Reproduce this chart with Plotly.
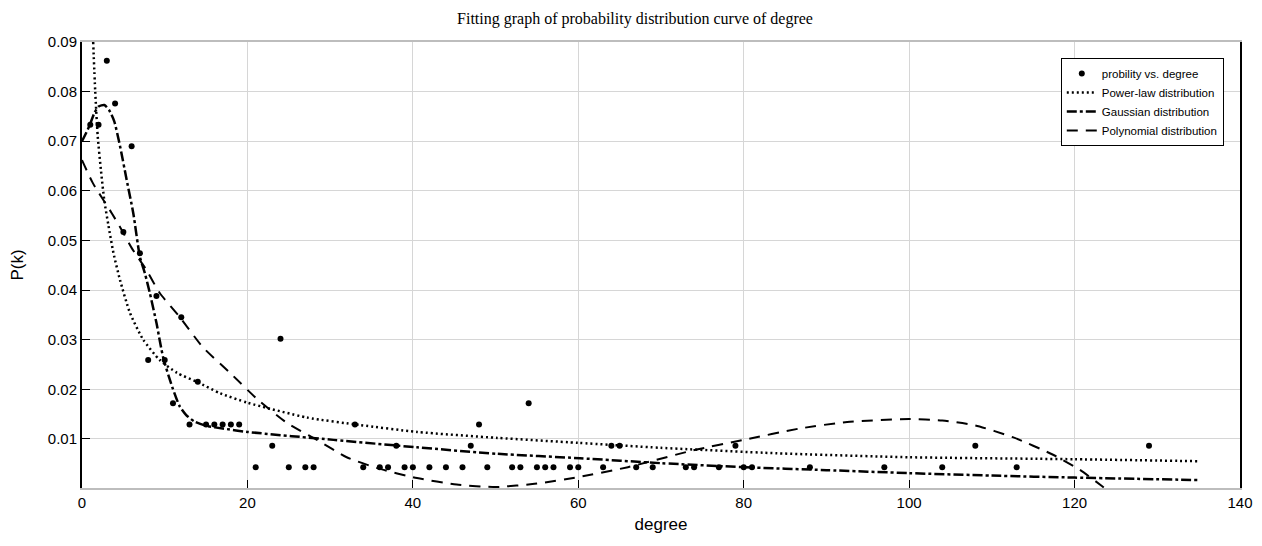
import plotly.graph_objects as go

# Observed data (degree, probability)
degree = [1, 2, 3, 4, 5, 6, 7, 8, 9, 10, 11, 12, 13, 14, 15, 16, 17, 18, 19,
          21, 23, 24, 25, 27, 28, 33, 34, 36, 37, 38, 39, 40, 42, 44, 46, 47, 48,
          49, 52, 53, 54, 55, 56, 57, 59, 60, 63, 64, 65, 67, 69, 73, 74, 77, 79,
          80, 81, 88, 97, 104, 108, 113, 129]
prob = [0.0733, 0.0733, 0.0862, 0.0776, 0.0517, 0.0690, 0.0474, 0.0259, 0.0388, 0.0259,
        0.0172, 0.0345, 0.0129, 0.0215, 0.0129, 0.0129, 0.0129, 0.0129, 0.0129,
        0.0043, 0.0086, 0.0302, 0.0043, 0.0043, 0.0043, 0.0129, 0.0043, 0.0043, 0.0043,
        0.0086, 0.0043, 0.0043, 0.0043, 0.0043, 0.0043, 0.0086, 0.0129,
        0.0043, 0.0043, 0.0043, 0.0172, 0.0043, 0.0043, 0.0043, 0.0043, 0.0043,
        0.0043, 0.0086, 0.0086, 0.0043, 0.0043, 0.0043, 0.0043, 0.0043, 0.0086,
        0.0043, 0.0043, 0.0043, 0.0043, 0.0043, 0.0086, 0.0043, 0.0086]

# Power-law fit curve
pl_x = [1.35, 1.6, 1.9, 2.3, 2.7, 3.2, 3.8, 4.6, 5.8, 7.4, 9.4, 11.5, 13.9, 16.7, 20,
        27.2, 33.6, 40.5, 50.2, 60, 70, 84, 100, 120, 135]
pl_y = [0.090, 0.080, 0.071, 0.064, 0.058, 0.053, 0.0475, 0.0420, 0.0354, 0.0300,
        0.0259, 0.0233, 0.0215, 0.0192, 0.0173, 0.0143, 0.0128, 0.0114, 0.0102, 0.0092,
        0.0082, 0.0071, 0.0063, 0.0059, 0.0055]

# Gaussian fit curve
ga_x = [0, 0.85, 1.5, 2.0, 2.7, 3.3, 3.9, 4.6, 5.4, 6.2, 7.0, 7.6, 8.2, 9.0, 9.8, 10.9,
        11.8, 12.6, 13.6, 15.1, 17, 20, 30.4, 40.5, 50.2, 60.2, 70, 80, 90, 100, 110, 120, 135]
ga_y = [0.0700, 0.0729, 0.0757, 0.0770, 0.0773, 0.0762, 0.0740, 0.0690, 0.0622, 0.0555,
        0.0467, 0.0434, 0.0394, 0.0334, 0.0265, 0.0205, 0.0166, 0.0148, 0.0135, 0.0126,
        0.0121, 0.0114, 0.0098, 0.0083, 0.0070, 0.0061, 0.0051, 0.0043, 0.0037, 0.0031,
        0.0026, 0.0022, 0.0017]

# Polynomial fit curve
po_x = [0, 1.3, 3.6, 4.8, 6.0, 7.8, 9.4, 11.8, 14.6, 17.9, 21.2, 24.8, 28.4, 32,
        35.7, 40.5, 45.3, 50, 55, 60, 66, 73.9, 80, 86.8, 92.5, 100, 104, 108, 112.6,
        117.4, 120.7, 123.3, 124.5]
po_y = [0.0662, 0.0616, 0.0555, 0.0521, 0.0485, 0.0440, 0.0394, 0.0346, 0.0285, 0.0233,
        0.0180, 0.0132, 0.0098, 0.0063, 0.0041, 0.0021, 0.0008, 0.0003, 0.0010, 0.0023,
        0.0043, 0.0077, 0.0098, 0.0121, 0.0134, 0.0140, 0.0137, 0.0127, 0.0103,
        0.0068, 0.0037, 0.0005, -0.0010]

x_ticks = [0, 20, 40, 60, 80, 100, 120, 140]
y_ticks = [0.01, 0.02, 0.03, 0.04, 0.05, 0.06, 0.07, 0.08, 0.09]

fig = go.Figure()
fig.add_trace(go.Scatter(x=degree, y=prob, mode="markers", name="probility vs. degree",
                         marker=dict(color="black", size=6)))
fig.add_trace(go.Scatter(x=pl_x, y=pl_y, mode="lines", name="Power-law distribution",
                         line=dict(color="black", width=2.5, dash="2px,3px", shape="spline", smoothing=0.6)))
fig.add_trace(go.Scatter(x=ga_x, y=ga_y, mode="lines", name="Gaussian distribution",
                         line=dict(color="black", width=2.5, dash="10px,3px,3px,3px", shape="spline", smoothing=0.6)))
fig.add_trace(go.Scatter(x=po_x, y=po_y, mode="lines", name="Polynomial distribution",
                         line=dict(color="black", width=2, dash="11px,8px", shape="spline", smoothing=0.6)))

fig.update_layout(
    width=1254, height=538,
    margin=dict(l=74, r=22, t=34, b=58),
    paper_bgcolor="white", plot_bgcolor="white",
    title=dict(text="Fitting graph of probability distribution curve of degree",
               x=0.5, xanchor="center", y=0.981, yanchor="middle",
               font=dict(family="Liberation Serif, Times New Roman, serif", size=16, color="black")),
    font=dict(family="Liberation Sans, Arial, sans-serif", size=15, color="black"),
    showlegend=True,
    legend=dict(x=0.986, y=0.964, xanchor="right", yanchor="top",
                bgcolor="white", bordercolor="black", borderwidth=1,
                font=dict(size=11.5, color="black"),
                tracegroupgap=0, itemwidth=30),
)
fig.update_xaxes(range=[0, 140], tickvals=x_ticks, showgrid=True, gridcolor="#d6d6d6",
                 showline=True, linecolor="#bdbdbd", linewidth=1.5, mirror=True,
                 ticks="inside", ticklen=8, tickcolor="black", zeroline=False,
                 automargin=False,
                 title=dict(text="degree", font=dict(size=17), standoff=8))
fig.update_yaxes(range=[0.0001, 0.09], tickvals=y_ticks, ticktext=[f"{v:.2f}" for v in y_ticks],
                 showgrid=True, gridcolor="#d6d6d6",
                 showline=True, linecolor="black", linewidth=2, mirror=True,
                 ticks="inside", ticklen=8, tickcolor="black", zeroline=False,
                 automargin=False,
                 title=dict(text="P(k)", font=dict(size=17), standoff=26))

fig.write_html("out.html")
